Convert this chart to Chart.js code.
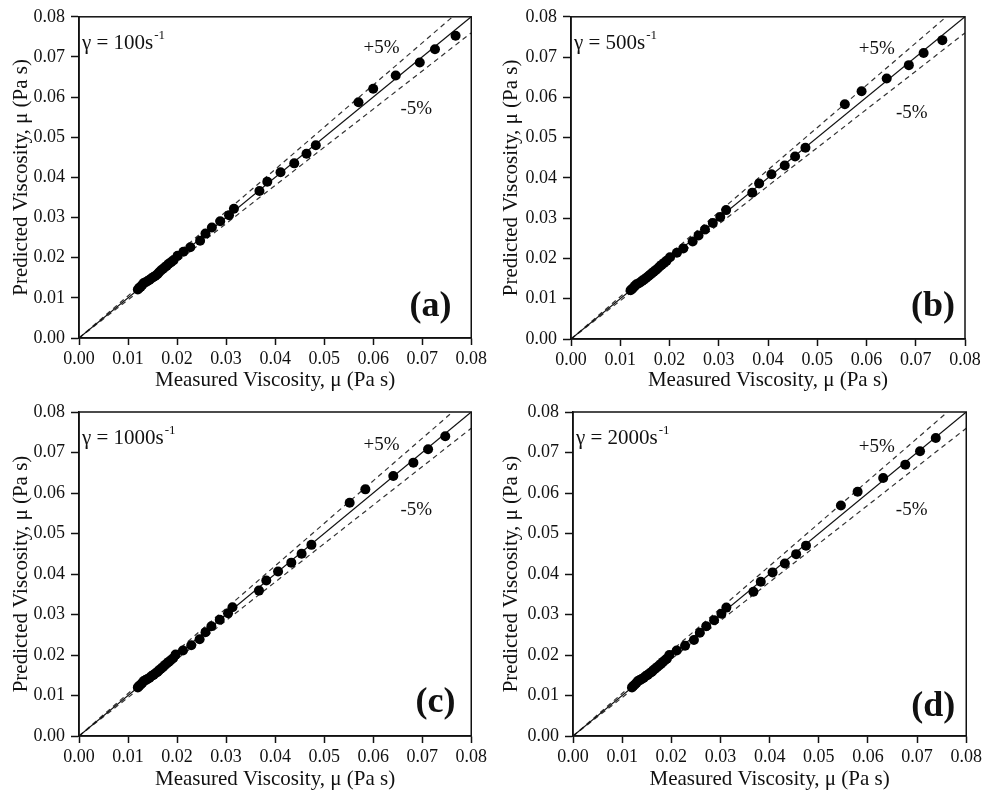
<!DOCTYPE html>
<html>
<head>
<meta charset="utf-8">
<script src="https://cdn.jsdelivr.net/npm/chart.js@4.4.1/dist/chart.umd.min.js"></script>
<style>
  body { margin: 0; background: #fff; }
  #wrap { position: relative; width: 985px; height: 794px; }
  canvas { position: absolute; }
</style>
</head>
<body>
<div id="wrap">
  <canvas id="chartA" width="490" height="395" style="left:0;top:0"></canvas>
  <canvas id="chartB" width="495" height="395" style="left:490px;top:0"></canvas>
  <canvas id="chartC" width="490" height="399" style="left:0;top:395px"></canvas>
  <canvas id="chartD" width="495" height="399" style="left:490px;top:395px"></canvas>
</div>
<script>
// shear rates for the four panels (1/s)
const shearRates = ['100', '500', '1000', '2000'];
const panelLetters = ['a', 'b', 'c', 'd'];

// measured vs predicted viscosity (Pa s)
const measA = [0.0120, 0.0123, 0.0126, 0.0129, 0.0132, 0.0136, 0.0140, 0.0144, 0.0148, 0.0152, 0.0156, 0.0160, 0.0163, 0.0167, 0.0171, 0.0175, 0.0179, 0.0183, 0.0188, 0.0193, 0.0201, 0.0213, 0.0227, 0.0247, 0.0258, 0.0271, 0.0288, 0.0306, 0.0316, 0.0368, 0.0384, 0.0411, 0.0439, 0.0464, 0.0483, 0.0570, 0.0600, 0.0646, 0.0695, 0.0726, 0.0768];
const predA = [0.0121, 0.0125, 0.0128, 0.0132, 0.0137, 0.0139, 0.0142, 0.0145, 0.0149, 0.0152, 0.0155, 0.0159, 0.0163, 0.0168, 0.0172, 0.0176, 0.0180, 0.0185, 0.0189, 0.0194, 0.0205, 0.0215, 0.0226, 0.0242, 0.0260, 0.0275, 0.0291, 0.0306, 0.0322, 0.0366, 0.0389, 0.0413, 0.0435, 0.0459, 0.0480, 0.0587, 0.0621, 0.0654, 0.0686, 0.0719, 0.0753];

const measB = [0.0121, 0.0124, 0.0127, 0.0130, 0.0133, 0.0137, 0.0141, 0.0145, 0.0149, 0.0153, 0.0157, 0.0160, 0.0164, 0.0168, 0.0172, 0.0176, 0.0180, 0.0184, 0.0189, 0.0194, 0.0201, 0.0215, 0.0228, 0.0247, 0.0259, 0.0272, 0.0288, 0.0303, 0.0315, 0.0368, 0.0382, 0.0407, 0.0434, 0.0455, 0.0476, 0.0556, 0.0590, 0.0641, 0.0686, 0.0716, 0.0754];
const predB = [0.0121, 0.0124, 0.0128, 0.0132, 0.0136, 0.0138, 0.0141, 0.0145, 0.0148, 0.0152, 0.0156, 0.0159, 0.0163, 0.0167, 0.0171, 0.0175, 0.0180, 0.0184, 0.0189, 0.0194, 0.0203, 0.0214, 0.0225, 0.0242, 0.0257, 0.0272, 0.0288, 0.0303, 0.0320, 0.0363, 0.0386, 0.0409, 0.0431, 0.0453, 0.0475, 0.0583, 0.0615, 0.0647, 0.0680, 0.0710, 0.0742];

const measC = [0.0120, 0.0123, 0.0126, 0.0129, 0.0132, 0.0136, 0.0140, 0.0144, 0.0148, 0.0152, 0.0156, 0.0160, 0.0163, 0.0167, 0.0171, 0.0175, 0.0179, 0.0183, 0.0187, 0.0192, 0.0197, 0.0212, 0.0229, 0.0246, 0.0258, 0.0270, 0.0287, 0.0304, 0.0313, 0.0367, 0.0382, 0.0406, 0.0433, 0.0454, 0.0474, 0.0552, 0.0584, 0.0641, 0.0682, 0.0712, 0.0747];
const predC = [0.0120, 0.0124, 0.0127, 0.0131, 0.0136, 0.0138, 0.0141, 0.0144, 0.0148, 0.0151, 0.0155, 0.0158, 0.0162, 0.0166, 0.0170, 0.0175, 0.0179, 0.0183, 0.0187, 0.0192, 0.0201, 0.0211, 0.0224, 0.0239, 0.0256, 0.0271, 0.0287, 0.0303, 0.0318, 0.0359, 0.0384, 0.0406, 0.0428, 0.0450, 0.0472, 0.0576, 0.0609, 0.0642, 0.0675, 0.0708, 0.0740];

const measD = [0.0120, 0.0123, 0.0126, 0.0129, 0.0132, 0.0136, 0.0140, 0.0144, 0.0148, 0.0152, 0.0156, 0.0160, 0.0163, 0.0167, 0.0171, 0.0175, 0.0179, 0.0183, 0.0187, 0.0191, 0.0196, 0.0211, 0.0228, 0.0246, 0.0258, 0.0271, 0.0287, 0.0302, 0.0312, 0.0367, 0.0382, 0.0406, 0.0431, 0.0454, 0.0474, 0.0545, 0.0579, 0.0631, 0.0676, 0.0706, 0.0738];
const predD = [0.0120, 0.0124, 0.0127, 0.0131, 0.0136, 0.0138, 0.0141, 0.0144, 0.0148, 0.0151, 0.0155, 0.0158, 0.0162, 0.0166, 0.0170, 0.0174, 0.0178, 0.0183, 0.0187, 0.0191, 0.0200, 0.0211, 0.0223, 0.0237, 0.0255, 0.0271, 0.0286, 0.0302, 0.0317, 0.0356, 0.0381, 0.0404, 0.0426, 0.0449, 0.0470, 0.0569, 0.0603, 0.0637, 0.0670, 0.0703, 0.0736];

// parity line and the +/-5% band, as [measured, predicted] end points
const parityLine = [[0, 0], [0.08, 0.08]];
const plusFive = [[0, 0], [0.08 / 1.05, 0.08]];
const minusFive = [[0, 0], [0.08, 0.076]];

const axisTicks = [0, 0.01, 0.02, 0.03, 0.04, 0.05, 0.06, 0.07, 0.08];

const serif = '"Liberation Serif", "Times New Roman", serif';

function toPoints(pairs) {
  return pairs.map(p => ({ x: p[0], y: p[1] }));
}

// frame, shear rate, band labels and panel letter
const panelText = {
  id: 'panelText',
  afterDatasetsDraw(chart, args, opts) {
    const { ctx, chartArea: a, scales: { x, y } } = chart;
    ctx.save();
    ctx.strokeStyle = '#111';
    ctx.lineWidth = 1.5;
    ctx.strokeRect(a.left, a.top, a.right - a.left, a.bottom - a.top);

    ctx.fillStyle = '#111';
    ctx.textBaseline = 'alphabetic';
    ctx.textAlign = 'left';
    ctx.font = '21px ' + serif;
    const main = 'γ = ' + opts.rate + 's';
    ctx.fillText(main, a.left + 3, a.top + 32);
    const w = ctx.measureText(main).width;
    ctx.font = '13px ' + serif;
    ctx.fillText('-1', a.left + 4 + w, a.top + 22);

    ctx.textAlign = 'center';
    ctx.textBaseline = 'middle';
    ctx.font = '19px ' + serif;
    ctx.fillText('+5%', x.getPixelForValue(opts.plusAt[0]), y.getPixelForValue(opts.plusAt[1]));
    ctx.fillText('-5%', x.getPixelForValue(opts.minusAt[0]), y.getPixelForValue(opts.minusAt[1]));

    ctx.font = 'bold 36px ' + serif;
    ctx.fillText('(' + opts.letter + ')', x.getPixelForValue(opts.letterAt[0]), y.getPixelForValue(opts.letterAt[1]));
    ctx.restore();
  }
};

function makePanel(id, meas, pred, idx, box) {
  const canvas = document.getElementById(id);
  const H = canvas.height;
  return new Chart(canvas, {
    type: 'scatter',
    data: {
      datasets: [{
        data: meas.map((m, i) => ({ x: m, y: pred[i] })),
        backgroundColor: '#000',
        borderColor: '#000',
        pointRadius: 5,
        pointBorderWidth: 0
      }, {
        type: 'line',
        data: toPoints(parityLine),
        borderColor: '#111',
        borderWidth: 1.2,
        pointRadius: 0
      }, {
        type: 'line',
        data: toPoints(plusFive),
        borderColor: '#333',
        borderWidth: 1.2,
        borderDash: [5, 4],
        pointRadius: 0
      }, {
        type: 'line',
        data: toPoints(minusFive),
        borderColor: '#333',
        borderWidth: 1.2,
        borderDash: [5, 4],
        pointRadius: 0
      }]
    },
    options: {
      responsive: false,
      animation: false,
      layout: { padding: { top: box.top, right: box.right, left: 0, bottom: 0 } },
      plugins: {
        legend: { display: false },
        tooltip: { enabled: false },
        panelText: {
          rate: shearRates[idx],
          letter: panelLetters[idx],
          plusAt: box.plusAt,
          minusAt: box.minusAt,
          letterAt: box.letterAt
        }
      },
      scales: {
        x: {
          type: 'linear',
          min: 0,
          max: 0.08,
          afterBuildTicks: s => { s.ticks = axisTicks.map(v => ({ value: v })); },
          afterFit: s => { s.height = H - box.bottom; },
          grid: { display: true, drawOnChartArea: false, drawTicks: true, tickLength: 7, tickColor: '#111', tickWidth: 1.5 },
          border: { color: '#111', width: 1.5 },
          ticks: {
            color: '#111',
            padding: 3,
            maxRotation: 0,
            font: { family: serif, size: 18 },
            callback: v => v.toFixed(2)
          },
          title: {
            display: true,
            text: 'Measured Viscosity, μ (Pa s)',
            color: '#111',
            font: { family: serif, size: 21 },
            padding: { top: 0, bottom: 2 }
          }
        },
        y: {
          type: 'linear',
          min: 0,
          max: 0.08,
          afterBuildTicks: s => { s.ticks = axisTicks.map(v => ({ value: v })); },
          afterFit: s => { s.width = box.left; },
          grid: { display: true, drawOnChartArea: false, drawTicks: true, tickLength: 8, tickColor: '#111', tickWidth: 1.5 },
          border: { color: '#111', width: 1.5 },
          ticks: {
            color: '#111',
            padding: 6,
            font: { family: serif, size: 18 },
            callback: v => v.toFixed(2)
          },
          title: {
            display: true,
            text: 'Predicted Viscosity, μ (Pa s)',
            color: '#111',
            font: { family: serif, size: 21 },
            padding: { top: 9, bottom: 0 }
          }
        }
      }
    },
    plugins: [panelText]
  });
}

makePanel('chartA', measA, predA, 0, {
  left: 79, right: 17, top: 15, bottom: 338,
  plusAt: [0.0617, 0.0723], minusAt: [0.0688, 0.0570], letterAt: [0.0717, 0.0079]
});
makePanel('chartB', measB, predB, 1, {
  left: 81, right: 20, top: 16, bottom: 339,
  plusAt: [0.0621, 0.0721], minusAt: [0.0692, 0.0560], letterAt: [0.0735, 0.0079]
});
makePanel('chartC', measC, predC, 2, {
  left: 79, right: 17, top: 17, bottom: 341,
  plusAt: [0.0617, 0.0719], minusAt: [0.0688, 0.0558], letterAt: [0.0727, 0.0081]
});
makePanel('chartD', measD, predD, 3, {
  left: 83, right: 17, top: 17, bottom: 341,
  plusAt: [0.0618, 0.0714], minusAt: [0.0689, 0.0558], letterAt: [0.0733, 0.0072]
});
</script>
</body>
</html>
